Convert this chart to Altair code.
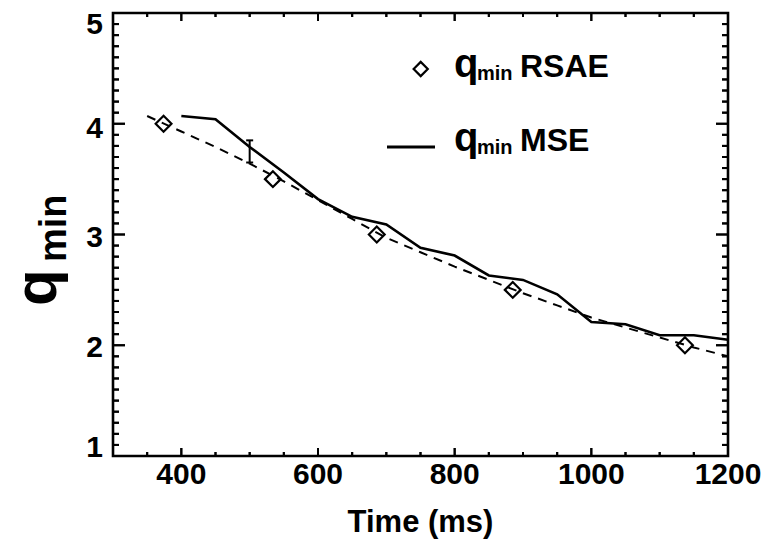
import altair as alt
import pandas as pd

# ---------------- data ----------------
fit_time = [350, 400, 450, 500, 550, 600, 650, 700, 750, 800, 850, 900, 950, 1000, 1050, 1100, 1150, 1200]
fit_q = [4.07, 3.93, 3.79, 3.64, 3.48, 3.31, 3.14, 2.97, 2.84, 2.71, 2.59, 2.47, 2.36, 2.25, 2.16, 2.07, 1.98, 1.90]

mse_time = [400, 450, 500, 550, 600, 650, 700, 750, 800, 850, 900, 950, 1000, 1050, 1100, 1150, 1200]
mse_q = [4.07, 4.04, 3.79, 3.56, 3.32, 3.16, 3.09, 2.88, 2.81, 2.63, 2.59, 2.46, 2.21, 2.19, 2.09, 2.09, 2.05]

rsae_time = [374, 534, 686, 885, 1137]
rsae_q = [4.0, 3.5, 3.0, 2.5, 2.0]

err_time = [500]
err_low = [3.65]
err_high = [3.85]

x_labels = [400, 600, 800, 1000, 1200]
y_labels = [1, 2, 3, 4, 5]
x_major = [400, 600, 800, 1000]
x_minor = [350, 450, 500, 550, 650, 700, 750, 850, 900, 950, 1050, 1100, 1150]
y_major = [2, 3, 4]
y_minor = [round(1 + i * 0.1, 1) for i in range(1, 40) if i % 10 != 0]

FONT = "Liberation Sans"
W, H = 615, 443

xs = alt.Scale(domain=[300, 1200], nice=False, zero=False)
ys = alt.Scale(domain=[1, 5], nice=False, zero=False)

fit_df = pd.DataFrame({"t": fit_time, "q": fit_q})
mse_df = pd.DataFrame({"t": mse_time, "q": mse_q})
rsae_df = pd.DataFrame({"t": rsae_time, "q": rsae_q})
err_df = pd.DataFrame({"t": err_time, "lo": err_low, "hi": err_high})
cap_df = pd.DataFrame({"t": err_time * 2, "q": err_low + err_high})
one = pd.DataFrame({"k": [0]})


def X(f="t"):
    return alt.X(f + ":Q", scale=xs, axis=None)


def Y(f="q"):
    return alt.Y(f + ":Q", scale=ys, axis=None)


fit = alt.Chart(fit_df).mark_line(color="black", strokeWidth=2, strokeDash=[9, 7]).encode(
    x=X(), y=Y())

mse = alt.Chart(mse_df).mark_line(color="black", strokeWidth=2.6).encode(x=X(), y=Y())

diam = alt.Chart(rsae_df).mark_point(shape="diamond", filled=False, color="black",
                                     strokeWidth=2.2, size=250, opacity=1).encode(x=X(), y=Y())

err = alt.Chart(err_df).mark_rule(color="black", strokeWidth=2).encode(
    x=X(), y=Y("lo"), y2="hi:Q")

caps = alt.Chart(cap_df).mark_tick(orient="horizontal", size=7, thickness=2, color="black",
                                   opacity=1).encode(x=X(), y=Y())


# inward tick marks on all four sides of the frame (rules, plus identical tick marks)
def xticks(values, length, side):
    d = pd.DataFrame({"v": values})
    y0, y1 = (H, H - length) if side == "bottom" else (0, length)
    rule = alt.Chart(d).mark_rule(color="black", strokeWidth=2).encode(
        x=X("v"), y=alt.value(y0), y2=alt.value(y1))
    tick = alt.Chart(d).mark_tick(orient="vertical", size=length, thickness=2,
                                  color="black", opacity=1).encode(
        x=X("v"), y=alt.value((y0 + y1) / 2))
    return [rule, tick]


def yticks(values, length, side):
    d = pd.DataFrame({"v": values})
    x0, x1 = (0, length) if side == "left" else (W, W - length)
    rule = alt.Chart(d).mark_rule(color="black", strokeWidth=2).encode(
        y=Y("v"), x=alt.value(x0), x2=alt.value(x1))
    tick = alt.Chart(d).mark_tick(orient="horizontal", size=length, thickness=2,
                                  color="black", opacity=1).encode(
        y=Y("v"), x=alt.value((x0 + x1) / 2))
    return [rule, tick]


ticks = (xticks(x_major, 8, "bottom") + xticks(x_minor, 4, "bottom")
         + xticks(x_major, 8, "top") + xticks(x_minor, 4, "top")
         + yticks(y_major, 12, "left") + yticks(y_minor, 6, "left")
         + yticks(y_major, 12, "right") + yticks(y_minor, 6, "right"))

# tick labels, drawn through the same scales
LBL = dict(font=FONT, fontSize=30, fontWeight="bold", color="black")
xlab = alt.Chart(pd.DataFrame({"t": x_labels})).mark_text(
    align="center", baseline="alphabetic", **LBL).encode(
    x=X(), y=alt.value(H + 28), text=alt.Text("t:Q", format="d"))

ylab_df = pd.DataFrame({"q": y_labels})


def ylab(test, dy):
    return alt.Chart(ylab_df).transform_filter(test).mark_text(
        align="right", baseline="middle", dy=dy, **LBL).encode(
        y=Y(), x=alt.value(-10), text=alt.Text("q:Q", format="d"))


ylabs = [ylab("datum.q == 5", 12), ylab("datum.q == 4", 5),
         ylab("datum.q == 2 || datum.q == 3", 3), ylab("datum.q == 1", -8)]


def txt(s, x, y, size, angle=0, align="left"):
    kw = dict(text=s, font=FONT, fontSize=size, fontWeight="bold", color="black",
              align=align, baseline="alphabetic")
    if angle:
        kw["angle"] = angle
    return alt.Chart(one).mark_text(**kw).encode(x=alt.value(x), y=alt.value(y))


leg_diam = alt.Chart(one).mark_point(shape="diamond", filled=False, color="black",
                                     strokeWidth=2.2, size=200, opacity=1).encode(
    x=alt.value(307.7), y=alt.value(56))
leg_line = alt.Chart(one).mark_rule(color="black", strokeWidth=3).encode(
    x=alt.value(274), x2=alt.value(322), y=alt.value(134))

texts = [
    leg_diam, leg_line,
    txt("q", 341, 64, 40), txt("min", 364, 67, 20), txt("RSAE", 407, 64, 32),
    txt("q", 341, 138, 40), txt("min", 364, 141, 20), txt("MSE", 407, 138, 32),
    txt("q", -57, 293, 60, 270), txt("min", -47, 249, 38, 270),
    txt("Time (ms)", W / 2, H + 76, 31, align="center"),
]

chart = alt.layer(fit, mse, diam, err, caps, *ticks, xlab, *ylabs, *texts).properties(
    width=W, height=H,
    autosize=alt.AutoSizeParams(type="none"),
    padding={"left": 113, "top": 13, "right": 45, "bottom": 83},
    background="white",
).configure_view(stroke="black", strokeWidth=2.6)

chart.save("out.html", embed_options={"renderer": "svg", "actions": False})
